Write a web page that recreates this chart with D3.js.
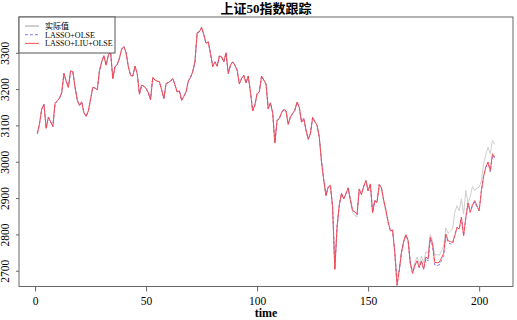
<!DOCTYPE html>
<html>
<head>
<meta charset="utf-8">
<script src="https://cdn.jsdelivr.net/npm/d3@7"></script>
<style>
  body { margin: 0; background: #fff; }
  svg text { font-family: "Liberation Serif", "Noto Sans CJK SC", serif; }
</style>
</head>
<body>
<svg id="chart" width="517" height="320"></svg>
<script>
// 实际值 (actual index), t = 1..207
const actual = [
  3077,3105,3145,3158,3092,3123,3110,3097,3160,3168,
  3175,3190,3243,3222,3205,3250,3248,3205,3170,3155,
  3165,3135,3125,3140,3172,3205,3203,3198,3250,3275,
  3292,3266,3294,3303,3229,3261,3268,3285,3310,3317,
  3300,3262,3238,3236,3263,3243,3186,3211,3208,3202,
  3190,3171,3232,3225,3222,3220,3198,3174,3215,3218,
  3222,3229,3212,3192,3195,3169,3180,3192,3222,3232,
  3248,3275,3355,3358,3371,3350,3326,3330,3298,3262,
  3275,3263,3291,3289,3275,3300,3243,3266,3275,3266,
  3252,3215,3229,3238,3217,3236,3192,3140,3156,3188,
  3192,3236,3225,3214,3146,3162,3135,3052,3114,3119,
  3135,3144,3140,3103,3123,3133,3142,3164,3150,3109,
  3119,3088,3062,3077,3122,3110,3100,3068,3000,2950,
  2907,2930,2935,2875,2704,2820,2880,2913,2898,2912,
  2928,2895,2860,2852,2848,2925,2910,2932,2948,2920,
  2939,2860,2893,2888,2937,2928,2890,2862,2835,2810,
  2812,2750,2684,2700,2750,2780,2799,2783,2722,2700,
  2722,2738,2718,2740,2722,2752,2748,2800,2782,2742,
  2745,2742,2755,2768,2818,2803,2808,2815,2860,2879,
  2865,2898,2856,2921,2884,2905,2932,2921,2928,2930,
  2948,2994,3020,3040,3022,3059,3048
];

// LASSO+OLSE
const lassoOlse = [
  3077,3105,3145,3158,3092,3123,3110,3097,3160,3168,
  3175,3190,3243,3222,3205,3250,3248,3205,3170,3155,
  3165,3135,3125,3140,3172,3205,3203,3198,3250,3275,
  3292,3266,3294,3303,3229,3261,3268,3285,3310,3317,
  3300,3262,3238,3236,3263,3243,3186,3211,3208,3202,
  3190,3171,3232,3225,3222,3220,3198,3174,3215,3218,
  3222,3229,3212,3192,3195,3169,3180,3192,3222,3232,
  3248,3275,3355,3358,3370,3350,3326,3330,3298,3262,
  3275,3263,3291,3289,3275,3300,3243,3266,3275,3266,
  3252,3215,3229,3238,3217,3236,3192,3140,3156,3188,
  3192,3236,3225,3214,3146,3162,3135,3052,3114,3119,
  3135,3144,3140,3103,3123,3133,3142,3164,3150,3109,
  3119,3088,3062,3077,3122,3110,3100,3068,3000,2950,
  2907,2930,2935,2875,2704,2820,2880,2913,2898,2912,
  2928,2895,2866,2862,2855,2925,2910,2932,2948,2920,
  2939,2860,2893,2888,2937,2928,2893,2866,2833,2810,
  2812,2750,2660,2700,2750,2780,2799,2783,2720,2693,
  2714,2727,2709,2727,2704,2733,2727,2790,2768,2716,
  2714,2716,2728,2742,2796,2778,2774,2773,2796,2819,
  2815,2847,2796,2847,2886,2861,2878,2889,2876,2865,
  2920,2960,2985,2999,2972,3018,3010
];

// LASSO+LIU+OLSE
const lassoLiuOlse = [
  3077,3105,3145,3158,3092,3123,3110,3097,3160,3168,
  3175,3190,3243,3222,3205,3250,3248,3205,3170,3155,
  3165,3135,3125,3140,3172,3205,3203,3198,3250,3275,
  3292,3266,3294,3303,3229,3261,3268,3285,3310,3317,
  3300,3262,3238,3236,3263,3243,3186,3211,3208,3202,
  3190,3171,3232,3225,3222,3220,3198,3174,3215,3218,
  3222,3229,3212,3192,3195,3169,3180,3192,3222,3232,
  3248,3275,3355,3358,3370,3350,3326,3330,3298,3262,
  3275,3263,3291,3289,3275,3300,3243,3266,3275,3266,
  3252,3215,3229,3238,3217,3236,3192,3140,3156,3188,
  3192,3236,3225,3214,3146,3162,3135,3052,3114,3119,
  3135,3144,3140,3103,3123,3133,3142,3164,3150,3109,
  3119,3088,3062,3077,3122,3110,3100,3068,3000,2950,
  2907,2930,2935,2875,2704,2820,2880,2913,2898,2912,
  2928,2895,2866,2862,2855,2925,2910,2932,2948,2920,
  2939,2860,2893,2888,2937,2928,2895,2868,2835,2810,
  2812,2750,2660,2700,2750,2780,2799,2783,2720,2693,
  2714,2727,2709,2727,2704,2738,2732,2792,2773,2723,
  2722,2723,2735,2748,2801,2783,2780,2778,2796,2819,
  2815,2847,2796,2847,2886,2861,2882,2893,2879,2865,
  2920,2960,2985,2999,2976,3022,3013
];

const xTicks = [0, 50, 100, 150, 200];
const yTicks = [2700, 2800, 2900, 3000, 3100, 3200, 3300];
const legendNames = ["实际值", "LASSO+OLSE", "LASSO+LIU+OLSE"];

const svg = d3.select("#chart");
const plotLeft = 19, plotRight = 513, plotTop = 17, plotBottom = 286.5;

// R style axis range: data range + 4% each side
const n = actual.length;
const xPad = (n - 1) * 0.04;
const x = d3.scaleLinear().domain([1 - xPad, n + xPad]).range([plotLeft, plotRight]);
const ext = d3.extent(actual);
const yPad = (ext[1] - ext[0]) * 0.04;
const y = d3.scaleLinear().domain([ext[0] - yPad, ext[1] + yPad]).range([plotBottom, plotTop]);

const line = d3.line().x((d, i) => x(i + 1)).y(d => y(d));

// series, drawn in legend order
const series = [
  { data: actual, color: "#cfcfcf", dash: null, opacity: 1 },
  { data: lassoOlse, color: "#5a5aff", dash: "3,2", opacity: 0.8 },
  { data: lassoLiuOlse, color: "#ff4646", dash: null, opacity: 0.92 }
];

series.forEach(s => {
  svg.append("path")
    .datum(s.data)
    .attr("fill", "none")
    .attr("stroke", s.color)
    .attr("stroke-width", 1)
    .attr("stroke-opacity", s.opacity)
    .attr("stroke-dasharray", s.dash)
    .attr("d", line);
});

// frame
svg.append("rect")
  .attr("x", plotLeft).attr("y", plotTop)
  .attr("width", plotRight - plotLeft).attr("height", plotBottom - plotTop)
  .attr("fill", "none").attr("stroke", "#666").attr("stroke-width", 1);

// x axis
const xAxis = svg.append("g")
  .attr("transform", `translate(0,${plotBottom})`)
  .call(d3.axisBottom(x).tickValues(xTicks).tickSize(5).tickPadding(5));
xAxis.select(".domain").remove();
xAxis.selectAll("line").attr("stroke", "#666");
xAxis.selectAll("text").attr("font-size", 11.5).attr("fill", "#000")
  .attr("font-family", "Liberation Serif");

// y axis, labels rotated like R
const yAxis = svg.append("g")
  .attr("transform", `translate(${plotLeft},0)`)
  .call(d3.axisLeft(y).tickValues(yTicks).tickSize(3).tickFormat(d3.format("d")));
yAxis.select(".domain").remove();
yAxis.selectAll("line").attr("stroke", "#666");
yAxis.selectAll("text")
  .attr("font-size", 11.5).attr("fill", "#000")
  .attr("font-family", "Liberation Serif")
  .attr("x", null).attr("dy", null)
  .attr("text-anchor", "middle")
  .attr("transform", "translate(-10,0) rotate(-90)");

// title and axis label
svg.append("text")
  .attr("x", (plotLeft + plotRight) / 2).attr("y", 13)
  .attr("text-anchor", "middle")
  .attr("font-size", 13).attr("font-weight", "bold")
  .text("上证50指数跟踪");

svg.append("text")
  .attr("x", (plotLeft + plotRight) / 2).attr("y", 317)
  .attr("text-anchor", "middle")
  .attr("font-size", 12).attr("font-weight", "bold")
  .text("time");

// legend
const legend = svg.append("g");
legend.append("rect")
  .attr("x", plotLeft).attr("y", plotTop)
  .attr("width", 96).attr("height", 36)
  .attr("fill", "#fff").attr("stroke", "#555").attr("stroke-width", 1);

legendNames.forEach((name, i) => {
  const ly = plotTop + 9 + i * 8.7;
  legend.append("line")
    .attr("x1", 25).attr("x2", 39)
    .attr("y1", ly).attr("y2", ly)
    .attr("stroke", series[i].color)
    .attr("stroke-opacity", series[i].opacity)
    .attr("stroke-dasharray", series[i].dash)
    .attr("stroke-width", i == 0 ? 2 : 1);
  legend.append("text")
    .attr("x", 45).attr("y", ly + 3)
    .attr("font-size", 8)
    .text(name);
});
</script>
</body>
</html>
